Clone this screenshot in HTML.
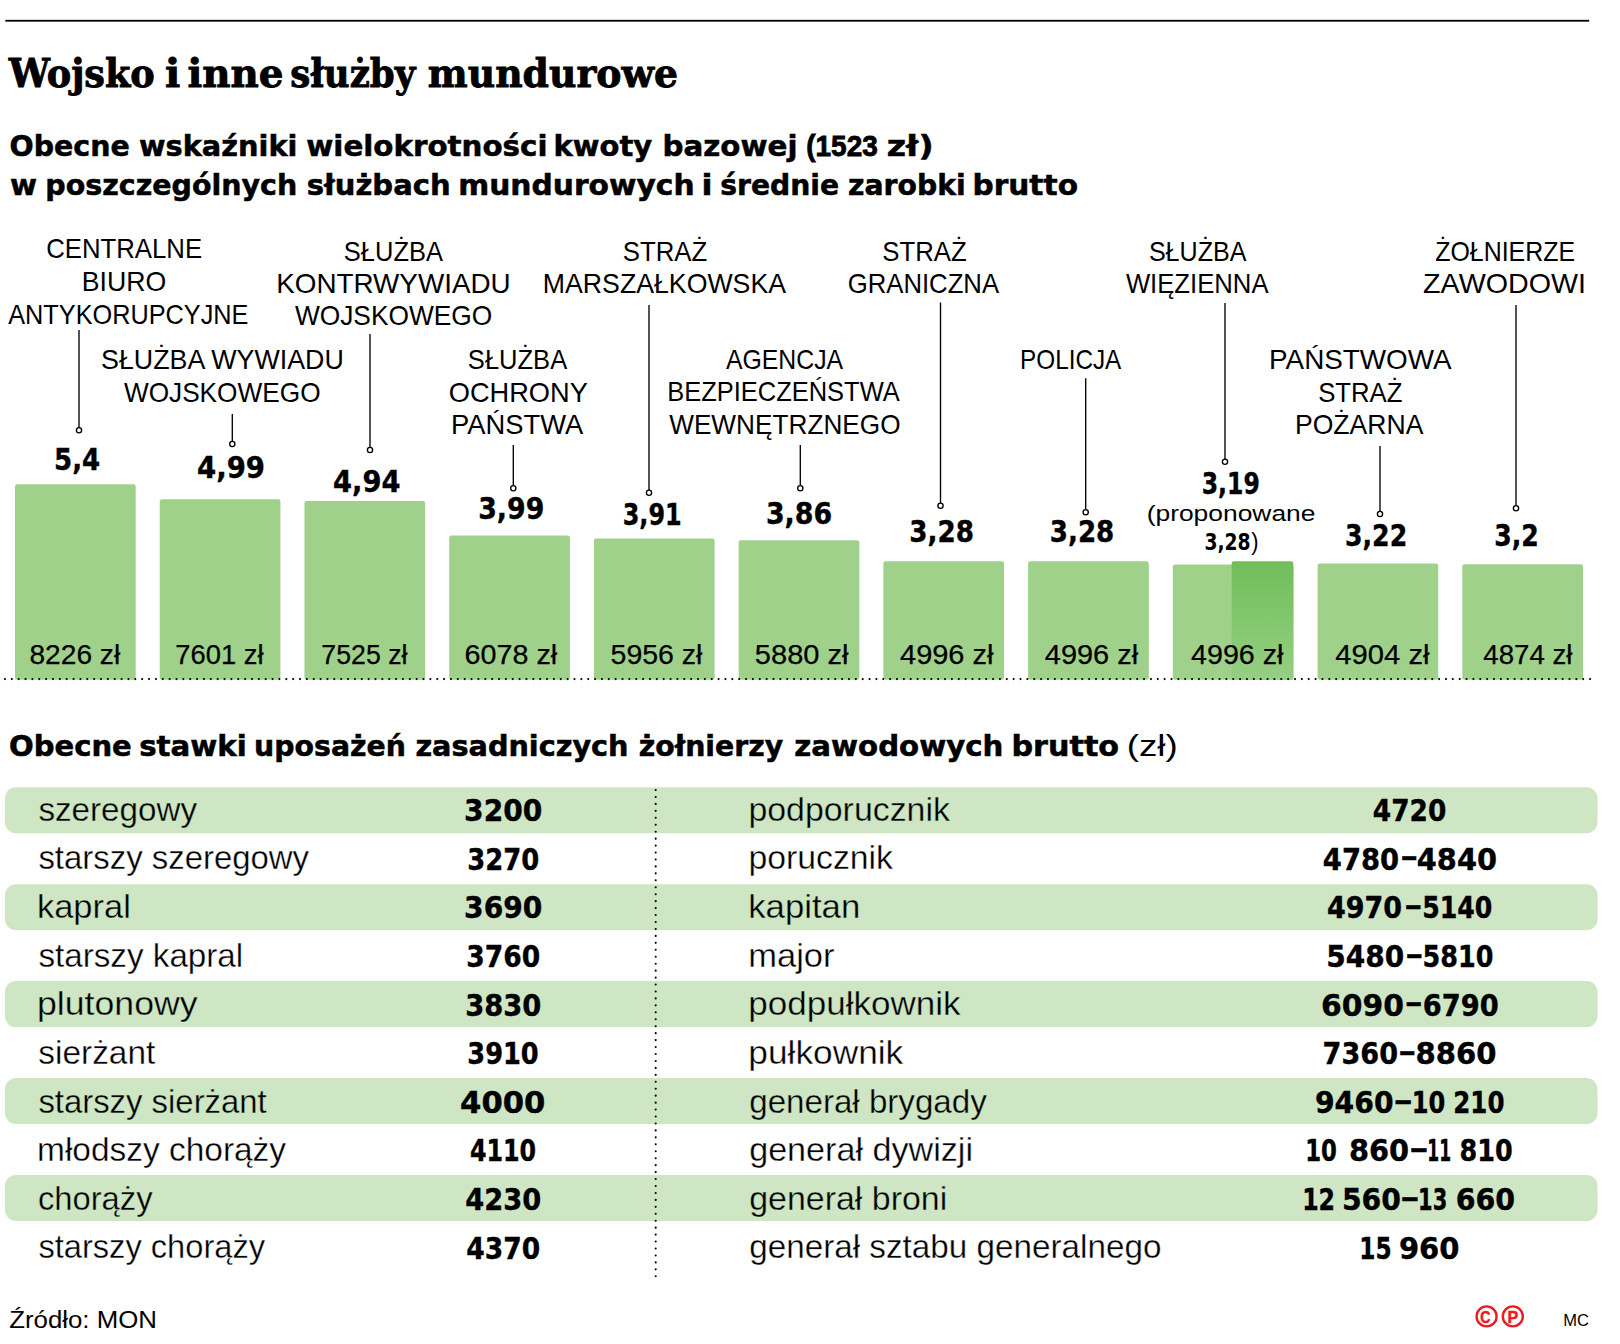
<!DOCTYPE html>
<html lang="pl">
<head>
<meta charset="utf-8">
<title>Wojsko i inne służby mundurowe</title>
<style>
html,body{margin:0;padding:0;background:#fff;}
body{width:1620px;height:1344px;overflow:hidden;}
svg{display:block;}
text{white-space:pre;}
.sn{font-family:'Liberation Sans', Arial, Helvetica, sans-serif;font-weight:400;}
.sb{font-family:'Liberation Sans', Arial, Helvetica, sans-serif;font-weight:700;}
.fb{font-family:'Liberation Serif', 'Times New Roman', serif;font-weight:700;}
.fn{font-family:'Liberation Serif', 'Times New Roman', serif;font-weight:400;}
.db{font-family:'DejaVu Sans', 'Liberation Sans', Verdana, sans-serif;font-weight:700;}
.dn{font-family:'DejaVu Sans', 'Liberation Sans', Verdana, sans-serif;font-weight:400;}
.eb{font-family:'DejaVu Serif Condensed', 'DejaVu Serif', 'Liberation Serif', serif;font-weight:700;}
.wb{font-family:'DejaVu Serif', 'Liberation Serif', serif;font-weight:700;}
</style>
</head>
<body>
<svg width="1620" height="1344" viewBox="0 0 1620 1344">
<defs>
<linearGradient id="g9" x1="0" y1="0" x2="0" y2="1">
<stop offset="0" stop-color="#6fbe58"/><stop offset="0.5" stop-color="#83c76e"/><stop offset="1" stop-color="#97ce83"/>
</linearGradient>
</defs>
<rect x="5.3" y="19.85" width="1583.9" height="1.8" fill="#000"/>
<text class="eb" font-size="39" fill="#000" stroke="#000" stroke-width="0.8"><tspan x="8.89" y="87.30" textLength="145.93" lengthAdjust="spacingAndGlyphs">Wojsko</tspan> <tspan x="165.02" y="87.30" textLength="15.28" lengthAdjust="spacingAndGlyphs">i</tspan> <tspan x="187.47" y="87.30" textLength="96.08" lengthAdjust="spacingAndGlyphs">inne</tspan> <tspan x="290.18" y="87.30" textLength="125.16" lengthAdjust="spacingAndGlyphs">służby</tspan> <tspan x="427.81" y="87.30" textLength="250.19" lengthAdjust="spacingAndGlyphs">mundurowe</tspan></text>
<text class="db" font-size="29" fill="#000" stroke="#000" stroke-width="0.55"><tspan x="9.59" y="156.00" textLength="120.09" lengthAdjust="spacingAndGlyphs">Obecne</tspan> <tspan x="138.99" y="156.00" textLength="158.43" lengthAdjust="spacingAndGlyphs">wskaźniki</tspan> <tspan x="306.27" y="156.00" textLength="241.19" lengthAdjust="spacingAndGlyphs">wielokrotności</tspan> <tspan x="553.57" y="156.00" textLength="98.66" lengthAdjust="spacingAndGlyphs">kwoty</tspan> <tspan x="662.54" y="156.00" textLength="134.92" lengthAdjust="spacingAndGlyphs">bazowej</tspan> <tspan x="806.31" y="156.00" textLength="71.40" lengthAdjust="spacingAndGlyphs" class="sb" stroke-width="0.8">(1523</tspan> <tspan x="886.81" y="156.00" textLength="46.74" lengthAdjust="spacingAndGlyphs">zł)</tspan></text>
<text class="db" font-size="29" fill="#000" stroke="#000" stroke-width="0.55"><tspan x="9.97" y="194.50" textLength="27.04" lengthAdjust="spacingAndGlyphs">w</tspan> <tspan x="45.31" y="194.50" textLength="251.92" lengthAdjust="spacingAndGlyphs">poszczególnych</tspan> <tspan x="306.80" y="194.50" textLength="143.77" lengthAdjust="spacingAndGlyphs">służbach</tspan> <tspan x="458.23" y="194.50" textLength="236.39" lengthAdjust="spacingAndGlyphs">mundurowych</tspan> <tspan x="701.51" y="194.50" textLength="10.98" lengthAdjust="spacingAndGlyphs">i</tspan> <tspan x="720.24" y="194.50" textLength="118.82" lengthAdjust="spacingAndGlyphs">średnie</tspan> <tspan x="848.03" y="194.50" textLength="117.64" lengthAdjust="spacingAndGlyphs">zarobki</tspan> <tspan x="972.51" y="194.50" textLength="105.46" lengthAdjust="spacingAndGlyphs">brutto</tspan></text>
<rect x="15.00" y="484.32" width="120.70" height="195.38" rx="2.2" ry="2.2" fill="#9fd18b"/>
<rect x="159.73" y="499.21" width="120.70" height="180.49" rx="2.2" ry="2.2" fill="#9fd18b"/>
<rect x="304.46" y="501.03" width="120.70" height="178.67" rx="2.2" ry="2.2" fill="#9fd18b"/>
<rect x="449.19" y="535.54" width="120.70" height="144.16" rx="2.2" ry="2.2" fill="#9fd18b"/>
<rect x="593.92" y="538.45" width="120.70" height="141.25" rx="2.2" ry="2.2" fill="#9fd18b"/>
<rect x="738.65" y="540.27" width="120.70" height="139.43" rx="2.2" ry="2.2" fill="#9fd18b"/>
<rect x="883.38" y="561.34" width="120.70" height="118.36" rx="2.2" ry="2.2" fill="#9fd18b"/>
<rect x="1028.11" y="561.34" width="120.70" height="118.36" rx="2.2" ry="2.2" fill="#9fd18b"/>
<rect x="1172.84" y="564.61" width="120.70" height="115.09" rx="2.2" ry="2.2" fill="#9fd18b"/>
<rect x="1231.70" y="561.34" width="61.60" height="118.36" rx="2.2" ry="2.2" fill="url(#g9)"/>
<rect x="1317.57" y="563.52" width="120.70" height="116.18" rx="2.2" ry="2.2" fill="#9fd18b"/>
<rect x="1462.30" y="564.24" width="120.70" height="115.46" rx="2.2" ry="2.2" fill="#9fd18b"/>
<line x1="4.94" y1="679.1" x2="1590.5" y2="679.1" stroke="#000" stroke-width="2.1" stroke-dasharray="0.01 6.852" stroke-linecap="round"/>
<line x1="79" y1="330" x2="79" y2="427.7" stroke="#000" stroke-width="1.35"/>
<circle cx="79" cy="430.3" r="2.6" fill="#fff" stroke="#000" stroke-width="1.35"/>
<line x1="232.3" y1="414" x2="232.3" y2="441.4" stroke="#000" stroke-width="1.35"/>
<circle cx="232.3" cy="444" r="2.6" fill="#fff" stroke="#000" stroke-width="1.35"/>
<line x1="370" y1="334" x2="370" y2="447.4" stroke="#000" stroke-width="1.35"/>
<circle cx="370" cy="450" r="2.6" fill="#fff" stroke="#000" stroke-width="1.35"/>
<line x1="513.3" y1="445" x2="513.3" y2="485.7" stroke="#000" stroke-width="1.35"/>
<circle cx="513.3" cy="488.3" r="2.6" fill="#fff" stroke="#000" stroke-width="1.35"/>
<line x1="649" y1="305" x2="649" y2="490.1" stroke="#000" stroke-width="1.35"/>
<circle cx="649" cy="492.7" r="2.6" fill="#fff" stroke="#000" stroke-width="1.35"/>
<line x1="800.3" y1="445" x2="800.3" y2="485.7" stroke="#000" stroke-width="1.35"/>
<circle cx="800.3" cy="488.3" r="2.6" fill="#fff" stroke="#000" stroke-width="1.35"/>
<line x1="940.5" y1="302.5" x2="940.5" y2="503.1" stroke="#000" stroke-width="1.35"/>
<circle cx="940.5" cy="505.7" r="2.6" fill="#fff" stroke="#000" stroke-width="1.35"/>
<line x1="1085.7" y1="378.3" x2="1085.7" y2="509.7" stroke="#000" stroke-width="1.35"/>
<circle cx="1085.7" cy="512.3" r="2.6" fill="#fff" stroke="#000" stroke-width="1.35"/>
<line x1="1225" y1="303" x2="1225" y2="459.1" stroke="#000" stroke-width="1.35"/>
<circle cx="1225" cy="461.7" r="2.6" fill="#fff" stroke="#000" stroke-width="1.35"/>
<line x1="1380" y1="446" x2="1380" y2="511.4" stroke="#000" stroke-width="1.35"/>
<circle cx="1380" cy="514" r="2.6" fill="#fff" stroke="#000" stroke-width="1.35"/>
<line x1="1516" y1="305" x2="1516" y2="505.7" stroke="#000" stroke-width="1.35"/>
<circle cx="1516" cy="508.3" r="2.6" fill="#fff" stroke="#000" stroke-width="1.35"/>
<text class="sn" font-size="27.5" fill="#000"><tspan x="46.19" y="258.10" textLength="155.91" lengthAdjust="spacingAndGlyphs">CENTRALNE</tspan> <tspan x="81.81" y="291.10" textLength="84.46" lengthAdjust="spacingAndGlyphs">BIURO</tspan> <tspan x="8.25" y="323.60" textLength="240.14" lengthAdjust="spacingAndGlyphs">ANTYKORUPCYJNE</tspan></text>
<text class="sn" font-size="27.5" fill="#000"><tspan x="101.09" y="369.40" textLength="242.66" lengthAdjust="spacingAndGlyphs">SŁUŻBA WYWIADU</tspan> <tspan x="123.88" y="401.80" textLength="196.67" lengthAdjust="spacingAndGlyphs">WOJSKOWEGO</tspan></text>
<text class="sn" font-size="27.5" fill="#000"><tspan x="343.86" y="260.80" textLength="97.69" lengthAdjust="spacingAndGlyphs">SŁUŻBA</tspan> <tspan x="276.22" y="292.80" textLength="234.42" lengthAdjust="spacingAndGlyphs">KONTRWYWIADU</tspan> <tspan x="294.88" y="325.00" textLength="197.37" lengthAdjust="spacingAndGlyphs">WOJSKOWEGO</tspan></text>
<text class="sn" font-size="27.5" fill="#000"><tspan x="467.86" y="369.40" textLength="97.89" lengthAdjust="spacingAndGlyphs">SŁUŻBA</tspan> <tspan x="448.72" y="401.80" textLength="138.58" lengthAdjust="spacingAndGlyphs">OCHRONY</tspan> <tspan x="451.11" y="434.20" textLength="132.25" lengthAdjust="spacingAndGlyphs">PAŃSTWA</tspan></text>
<text class="sn" font-size="27.5" fill="#000"><tspan x="622.83" y="260.80" textLength="84.48" lengthAdjust="spacingAndGlyphs">STRAŻ</tspan> <tspan x="542.81" y="292.80" textLength="243.24" lengthAdjust="spacingAndGlyphs">MARSZAŁKOWSKA</tspan></text>
<text class="sn" font-size="27.5" fill="#000"><tspan x="725.95" y="369.40" textLength="115.80" lengthAdjust="spacingAndGlyphs">AGENCJA</tspan> <tspan x="667.23" y="401.20" textLength="231.12" lengthAdjust="spacingAndGlyphs">BEZPIECZEŃSTWA</tspan> <tspan x="669.18" y="433.60" textLength="231.37" lengthAdjust="spacingAndGlyphs">WEWNĘTRZNEGO</tspan></text>
<text class="sn" font-size="27.5" fill="#000"><tspan x="882.33" y="260.60" textLength="84.48" lengthAdjust="spacingAndGlyphs">STRAŻ</tspan> <tspan x="847.71" y="292.60" textLength="151.34" lengthAdjust="spacingAndGlyphs">GRANICZNA</tspan></text>
<text class="sn" font-size="27.5" fill="#000"><tspan x="1020.01" y="369.40" textLength="101.34" lengthAdjust="spacingAndGlyphs">POLICJA</tspan></text>
<text class="sn" font-size="27.5" fill="#000"><tspan x="1148.88" y="260.60" textLength="96.17" lengthAdjust="spacingAndGlyphs">SŁUŻBA</tspan> <tspan x="1125.89" y="292.60" textLength="142.66" lengthAdjust="spacingAndGlyphs">WIĘZIENNA</tspan></text>
<text class="sn" font-size="27.5" fill="#000"><tspan x="1269.07" y="369.40" textLength="180.98" lengthAdjust="spacingAndGlyphs">PAŃSTWOWA</tspan> <tspan x="1318.13" y="401.80" textLength="84.37" lengthAdjust="spacingAndGlyphs">STRAŻ</tspan> <tspan x="1295.02" y="434.20" textLength="128.33" lengthAdjust="spacingAndGlyphs">POŻARNA</tspan></text>
<text class="sn" font-size="27.5" fill="#000"><tspan x="1435.21" y="260.60" textLength="139.86" lengthAdjust="spacingAndGlyphs">ŻOŁNIERZE</tspan> <tspan x="1423.10" y="292.60" textLength="162.83" lengthAdjust="spacingAndGlyphs">ZAWODOWI</tspan></text>
<text class="db" x="53.99" y="470.10" font-size="29.5" textLength="46.21" lengthAdjust="spacingAndGlyphs" fill="#000" stroke="#000" stroke-width="0.4">5,4</text>
<text class="db" x="197.06" y="477.50" font-size="29.5" textLength="68.00" lengthAdjust="spacingAndGlyphs" fill="#000" stroke="#000" stroke-width="0.4">4,99</text>
<text class="db" x="333.07" y="491.50" font-size="29.5" textLength="67.48" lengthAdjust="spacingAndGlyphs" fill="#000" stroke="#000" stroke-width="0.4">4,94</text>
<text class="db" x="478.20" y="519.10" font-size="29.5" textLength="66.21" lengthAdjust="spacingAndGlyphs" fill="#000" stroke="#000" stroke-width="0.4">3,99</text>
<text class="db" x="622.70" y="525.10" font-size="29.5" textLength="58.94" lengthAdjust="spacingAndGlyphs" fill="#000" stroke="#000" stroke-width="0.4">3,91</text>
<text class="db" x="765.90" y="523.50" font-size="29.5" textLength="66.24" lengthAdjust="spacingAndGlyphs" fill="#000" stroke="#000" stroke-width="0.4">3,86</text>
<text class="db" x="909.25" y="541.80" font-size="29.5" textLength="64.68" lengthAdjust="spacingAndGlyphs" fill="#000" stroke="#000" stroke-width="0.4">3,28</text>
<text class="db" x="1049.75" y="541.80" font-size="29.5" textLength="64.57" lengthAdjust="spacingAndGlyphs" fill="#000" stroke="#000" stroke-width="0.4">3,28</text>
<text class="db" x="1201.73" y="494.10" font-size="29.5" textLength="58.08" lengthAdjust="spacingAndGlyphs" fill="#000" stroke="#000" stroke-width="0.4">3,19</text>
<text class="db" x="1345.01" y="545.80" font-size="29.5" textLength="62.18" lengthAdjust="spacingAndGlyphs" fill="#000" stroke="#000" stroke-width="0.4">3,22</text>
<text class="db" x="1494.32" y="545.80" font-size="29.5" textLength="44.57" lengthAdjust="spacingAndGlyphs" fill="#000" stroke="#000" stroke-width="0.4">3,2</text>
<text class="sn" x="1146.66" y="521.00" font-size="22" textLength="168.81" lengthAdjust="spacingAndGlyphs" fill="#000">(proponowane</text>
<text class="sn" font-size="23" fill="#000"><tspan x="1204.45" y="550.30" textLength="46.21" lengthAdjust="spacingAndGlyphs" class="db">3,28</tspan><tspan x="1251.37" y="550.30" textLength="7.28" lengthAdjust="spacingAndGlyphs">)</tspan></text>
<text class="sn" x="29.48" y="664.30" font-size="27" textLength="90.70" lengthAdjust="spacingAndGlyphs" fill="#000" stroke="#000" stroke-width="0.25">8226 zł</text>
<text class="sn" x="175.30" y="664.30" font-size="27" textLength="88.18" lengthAdjust="spacingAndGlyphs" fill="#000" stroke="#000" stroke-width="0.25">7601 zł</text>
<text class="sn" x="321.33" y="664.30" font-size="27" textLength="86.14" lengthAdjust="spacingAndGlyphs" fill="#000" stroke="#000" stroke-width="0.25">7525 zł</text>
<text class="sn" x="464.54" y="664.30" font-size="27" textLength="92.64" lengthAdjust="spacingAndGlyphs" fill="#000" stroke="#000" stroke-width="0.25">6078 zł</text>
<text class="sn" x="610.56" y="664.30" font-size="27" textLength="91.92" lengthAdjust="spacingAndGlyphs" fill="#000" stroke="#000" stroke-width="0.25">5956 zł</text>
<text class="sn" x="754.84" y="664.30" font-size="27" textLength="93.65" lengthAdjust="spacingAndGlyphs" fill="#000" stroke="#000" stroke-width="0.25">5880 zł</text>
<text class="sn" x="900.03" y="664.30" font-size="27" textLength="93.45" lengthAdjust="spacingAndGlyphs" fill="#000" stroke="#000" stroke-width="0.25">4996 zł</text>
<text class="sn" x="1044.84" y="664.30" font-size="27" textLength="93.35" lengthAdjust="spacingAndGlyphs" fill="#000" stroke="#000" stroke-width="0.25">4996 zł</text>
<text class="sn" x="1191.04" y="664.30" font-size="27" textLength="92.44" lengthAdjust="spacingAndGlyphs" fill="#000" stroke="#000" stroke-width="0.25">4996 zł</text>
<text class="sn" x="1335.33" y="664.30" font-size="27" textLength="94.16" lengthAdjust="spacingAndGlyphs" fill="#000" stroke="#000" stroke-width="0.25">4904 zł</text>
<text class="sn" x="1483.37" y="664.30" font-size="27" textLength="89.11" lengthAdjust="spacingAndGlyphs" fill="#000" stroke="#000" stroke-width="0.25">4874 zł</text>
<text class="db" font-size="29" fill="#000" stroke="#000" stroke-width="0.55"><tspan x="8.95" y="755.60" textLength="122.85" lengthAdjust="spacingAndGlyphs">Obecne</tspan> <tspan x="139.19" y="755.60" textLength="107.67" lengthAdjust="spacingAndGlyphs">stawki</tspan> <tspan x="254.09" y="755.60" textLength="151.83" lengthAdjust="spacingAndGlyphs">uposażeń</tspan> <tspan x="415.41" y="755.60" textLength="213.13" lengthAdjust="spacingAndGlyphs">zasadniczych</tspan> <tspan x="638.73" y="755.60" textLength="144.38" lengthAdjust="spacingAndGlyphs">żołnierzy</tspan> <tspan x="794.29" y="755.60" textLength="209.10" lengthAdjust="spacingAndGlyphs">zawodowych</tspan> <tspan x="1011.46" y="755.60" textLength="107.63" lengthAdjust="spacingAndGlyphs">brutto</tspan> <tspan x="1126.72" y="755.60" textLength="51.06" lengthAdjust="spacingAndGlyphs" class="sn" stroke-width="0">(zł)</tspan></text>
<rect x="5" y="787.30" width="1592.5" height="46" rx="11" ry="11" fill="#cfe6c4"/>
<rect x="5" y="884.20" width="1592.5" height="46" rx="11" ry="11" fill="#cfe6c4"/>
<rect x="5" y="981.10" width="1592.5" height="46" rx="11" ry="11" fill="#cfe6c4"/>
<rect x="5" y="1078.00" width="1592.5" height="46" rx="11" ry="11" fill="#cfe6c4"/>
<rect x="5" y="1174.90" width="1592.5" height="46" rx="11" ry="11" fill="#cfe6c4"/>
<line x1="655.7" y1="790" x2="655.7" y2="1277" stroke="#000" stroke-width="2.1" stroke-dasharray="0.01 6.937" stroke-linecap="round"/>
<text class="sn" x="38.38" y="820.60" font-size="34" textLength="158.69" lengthAdjust="spacingAndGlyphs" fill="#000" stroke="#cfe6c4" stroke-width="0.35">szeregowy</text>
<text class="db" x="464.12" y="820.90" font-size="29.5" textLength="78.23" lengthAdjust="spacingAndGlyphs" fill="#000" stroke="#000" stroke-width="0.4">3200</text>
<text class="sn" x="38.38" y="869.25" font-size="34" textLength="270.68" lengthAdjust="spacingAndGlyphs" fill="#000" stroke="#fff" stroke-width="0.35">starszy szeregowy</text>
<text class="db" x="467.27" y="869.55" font-size="29.5" textLength="71.97" lengthAdjust="spacingAndGlyphs" fill="#000" stroke="#000" stroke-width="0.4">3270</text>
<text class="sn" x="36.98" y="917.90" font-size="34" textLength="93.83" lengthAdjust="spacingAndGlyphs" fill="#000" stroke="#cfe6c4" stroke-width="0.35">kapral</text>
<text class="db" x="464.12" y="918.20" font-size="29.5" textLength="78.23" lengthAdjust="spacingAndGlyphs" fill="#000" stroke="#000" stroke-width="0.4">3690</text>
<text class="sn" x="38.38" y="966.55" font-size="34" textLength="204.85" lengthAdjust="spacingAndGlyphs" fill="#000" stroke="#fff" stroke-width="0.35">starszy kapral</text>
<text class="db" x="466.22" y="966.85" font-size="29.5" textLength="74.05" lengthAdjust="spacingAndGlyphs" fill="#000" stroke="#000" stroke-width="0.4">3760</text>
<text class="sn" x="37.00" y="1015.20" font-size="34" textLength="160.57" lengthAdjust="spacingAndGlyphs" fill="#000" stroke="#cfe6c4" stroke-width="0.35">plutonowy</text>
<text class="db" x="465.17" y="1015.50" font-size="29.5" textLength="76.14" lengthAdjust="spacingAndGlyphs" fill="#000" stroke="#000" stroke-width="0.4">3830</text>
<text class="sn" x="38.37" y="1063.85" font-size="34" textLength="116.87" lengthAdjust="spacingAndGlyphs" fill="#000" stroke="#fff" stroke-width="0.35">sierżant</text>
<text class="db" x="467.28" y="1064.15" font-size="29.5" textLength="71.45" lengthAdjust="spacingAndGlyphs" fill="#000" stroke="#000" stroke-width="0.4">3910</text>
<text class="sn" x="38.39" y="1112.50" font-size="34" textLength="228.36" lengthAdjust="spacingAndGlyphs" fill="#000" stroke="#cfe6c4" stroke-width="0.35">starszy sierżant</text>
<text class="db" x="460.12" y="1112.80" font-size="29.5" textLength="85.34" lengthAdjust="spacingAndGlyphs" fill="#000" stroke="#000" stroke-width="0.4">4000</text>
<text class="sn" x="37.08" y="1161.15" font-size="34" textLength="248.99" lengthAdjust="spacingAndGlyphs" fill="#000" stroke="#fff" stroke-width="0.35">młodszy chorąży</text>
<text class="db" x="469.93" y="1161.45" font-size="29.5" textLength="66.21" lengthAdjust="spacingAndGlyphs" fill="#000" stroke="#000" stroke-width="0.4">4110</text>
<text class="sn" x="37.91" y="1209.80" font-size="34" textLength="114.65" lengthAdjust="spacingAndGlyphs" fill="#000" stroke="#cfe6c4" stroke-width="0.35">chorąży</text>
<text class="db" x="465.27" y="1210.10" font-size="29.5" textLength="76.03" lengthAdjust="spacingAndGlyphs" fill="#000" stroke="#000" stroke-width="0.4">4230</text>
<text class="sn" x="38.39" y="1258.45" font-size="34" textLength="226.67" lengthAdjust="spacingAndGlyphs" fill="#000" stroke="#fff" stroke-width="0.35">starszy chorąży</text>
<text class="db" x="466.31" y="1258.75" font-size="29.5" textLength="73.97" lengthAdjust="spacingAndGlyphs" fill="#000" stroke="#000" stroke-width="0.4">4370</text>
<text class="sn" x="748.42" y="820.60" font-size="34" textLength="201.53" lengthAdjust="spacingAndGlyphs" fill="#000" stroke="#cfe6c4" stroke-width="0.35">podporucznik</text>
<text class="db" font-size="29.5" fill="#000" stroke="#000" stroke-width="0.4"><tspan x="1372.81" y="820.90" textLength="73.45" lengthAdjust="spacingAndGlyphs">4720</tspan></text>
<text class="sn" x="748.42" y="869.25" font-size="34" textLength="144.53" lengthAdjust="spacingAndGlyphs" fill="#000" stroke="#fff" stroke-width="0.35">porucznik</text>
<text class="db" font-size="29.5" fill="#000" stroke="#000" stroke-width="0.4"><tspan x="1322.87" y="869.55" textLength="76.34" lengthAdjust="spacingAndGlyphs">4780</tspan><tspan x="1400.44" y="866.25" textLength="17.32" lengthAdjust="spacingAndGlyphs">–</tspan><tspan x="1416.81" y="869.55" textLength="80.17" lengthAdjust="spacingAndGlyphs">4840</tspan></text>
<text class="sn" x="748.26" y="917.90" font-size="34" textLength="112.00" lengthAdjust="spacingAndGlyphs" fill="#000" stroke="#cfe6c4" stroke-width="0.35">kapitan</text>
<text class="db" font-size="29.5" fill="#000" stroke="#000" stroke-width="0.4"><tspan x="1326.99" y="918.20" textLength="75.10" lengthAdjust="spacingAndGlyphs">4970</tspan><tspan x="1404.41" y="914.90" textLength="17.58" lengthAdjust="spacingAndGlyphs">–</tspan><tspan x="1422.15" y="918.20" textLength="70.26" lengthAdjust="spacingAndGlyphs">5140</tspan></text>
<text class="sn" x="748.31" y="966.55" font-size="34" textLength="86.26" lengthAdjust="spacingAndGlyphs" fill="#000" stroke="#fff" stroke-width="0.35">major</text>
<text class="db" font-size="29.5" fill="#000" stroke="#000" stroke-width="0.4"><tspan x="1326.34" y="966.85" textLength="77.90" lengthAdjust="spacingAndGlyphs">5480</tspan><tspan x="1405.41" y="963.55" textLength="17.58" lengthAdjust="spacingAndGlyphs">–</tspan><tspan x="1422.54" y="966.85" textLength="70.88" lengthAdjust="spacingAndGlyphs">5810</tspan></text>
<text class="sn" x="748.34" y="1015.20" font-size="34" textLength="212.31" lengthAdjust="spacingAndGlyphs" fill="#000" stroke="#cfe6c4" stroke-width="0.35">podpułkownik</text>
<text class="db" font-size="29.5" fill="#000" stroke="#000" stroke-width="0.4"><tspan x="1321.05" y="1015.50" textLength="82.98" lengthAdjust="spacingAndGlyphs">6090</tspan><tspan x="1405.13" y="1012.20" textLength="17.45" lengthAdjust="spacingAndGlyphs">–</tspan><tspan x="1422.81" y="1015.50" textLength="75.90" lengthAdjust="spacingAndGlyphs">6790</tspan></text>
<text class="sn" x="748.33" y="1063.85" font-size="34" textLength="154.92" lengthAdjust="spacingAndGlyphs" fill="#000" stroke="#fff" stroke-width="0.35">pułkownik</text>
<text class="db" font-size="29.5" fill="#000" stroke="#000" stroke-width="0.4"><tspan x="1322.59" y="1064.15" textLength="75.41" lengthAdjust="spacingAndGlyphs">7360</tspan><tspan x="1398.53" y="1060.85" textLength="17.45" lengthAdjust="spacingAndGlyphs">–</tspan><tspan x="1415.62" y="1064.15" textLength="80.97" lengthAdjust="spacingAndGlyphs">8860</tspan></text>
<text class="sn" x="749.21" y="1112.50" font-size="34" textLength="237.56" lengthAdjust="spacingAndGlyphs" fill="#000" stroke="#cfe6c4" stroke-width="0.35">generał brygady</text>
<text class="db" font-size="29.5" fill="#000" stroke="#000" stroke-width="0.4"><tspan x="1314.94" y="1112.80" textLength="78.61" lengthAdjust="spacingAndGlyphs">9460</tspan><tspan x="1393.88" y="1109.50" textLength="18.85" lengthAdjust="spacingAndGlyphs">–</tspan><tspan x="1411.68" y="1112.80" textLength="33.58" lengthAdjust="spacingAndGlyphs">10</tspan> <tspan x="1453.26" y="1112.80" textLength="51.21" lengthAdjust="spacingAndGlyphs">210</tspan></text>
<text class="sn" x="749.17" y="1161.15" font-size="34" textLength="223.83" lengthAdjust="spacingAndGlyphs" fill="#000" stroke="#fff" stroke-width="0.35">generał dywizji</text>
<text class="db" font-size="29.5" fill="#000" stroke="#000" stroke-width="0.4"><tspan x="1305.23" y="1161.45" textLength="31.77" lengthAdjust="spacingAndGlyphs">10</tspan> <tspan x="1348.94" y="1161.45" textLength="60.24" lengthAdjust="spacingAndGlyphs">860</tspan><tspan x="1409.48" y="1158.15" textLength="18.85" lengthAdjust="spacingAndGlyphs">–</tspan><tspan x="1427.37" y="1161.45" textLength="23.81" lengthAdjust="spacingAndGlyphs">11</tspan> <tspan x="1459.55" y="1161.45" textLength="53.17" lengthAdjust="spacingAndGlyphs">810</tspan></text>
<text class="sn" x="749.17" y="1209.80" font-size="34" textLength="198.11" lengthAdjust="spacingAndGlyphs" fill="#000" stroke="#cfe6c4" stroke-width="0.35">generał broni</text>
<text class="db" font-size="29.5" fill="#000" stroke="#000" stroke-width="0.4"><tspan x="1302.13" y="1210.10" textLength="32.93" lengthAdjust="spacingAndGlyphs">12</tspan> <tspan x="1341.92" y="1210.10" textLength="59.04" lengthAdjust="spacingAndGlyphs">560</tspan><tspan x="1400.58" y="1206.80" textLength="18.85" lengthAdjust="spacingAndGlyphs">–</tspan><tspan x="1418.03" y="1210.10" textLength="29.24" lengthAdjust="spacingAndGlyphs">13</tspan> <tspan x="1455.63" y="1210.10" textLength="59.43" lengthAdjust="spacingAndGlyphs">660</tspan></text>
<text class="sn" x="749.20" y="1258.45" font-size="34" textLength="412.19" lengthAdjust="spacingAndGlyphs" fill="#000" stroke="#fff" stroke-width="0.35">generał sztabu generalnego</text>
<text class="db" font-size="29.5" fill="#000" stroke="#000" stroke-width="0.4"><tspan x="1359.28" y="1258.75" textLength="32.34" lengthAdjust="spacingAndGlyphs">15</tspan> <tspan x="1398.90" y="1258.75" textLength="60.59" lengthAdjust="spacingAndGlyphs">960</tspan></text>
<text class="sn" x="9.18" y="1327.50" font-size="23" textLength="147.72" lengthAdjust="spacingAndGlyphs" fill="#000">Źródło: MON</text>
<text class="sn" x="1563.25" y="1325.80" font-size="16.5" textLength="25.68" lengthAdjust="spacingAndGlyphs" fill="#000">MC</text>
<circle cx="1486.6" cy="1316.4" r="10" fill="none" stroke="#ec1b24" stroke-width="2.4"/>
<circle cx="1512.8" cy="1316.4" r="10" fill="none" stroke="#ec1b24" stroke-width="2.4"/>
<text class="sb" x="1480.22" y="1322.60" font-size="17" textLength="10.16" lengthAdjust="spacingAndGlyphs" fill="#ec1b24" stroke="#ec1b24" stroke-width="0.5">C</text>
<text class="sb" x="1507.42" y="1322.60" font-size="17" textLength="10.73" lengthAdjust="spacingAndGlyphs" fill="#ec1b24" stroke="#ec1b24" stroke-width="0.5">P</text>
</svg>
</body>
</html>
